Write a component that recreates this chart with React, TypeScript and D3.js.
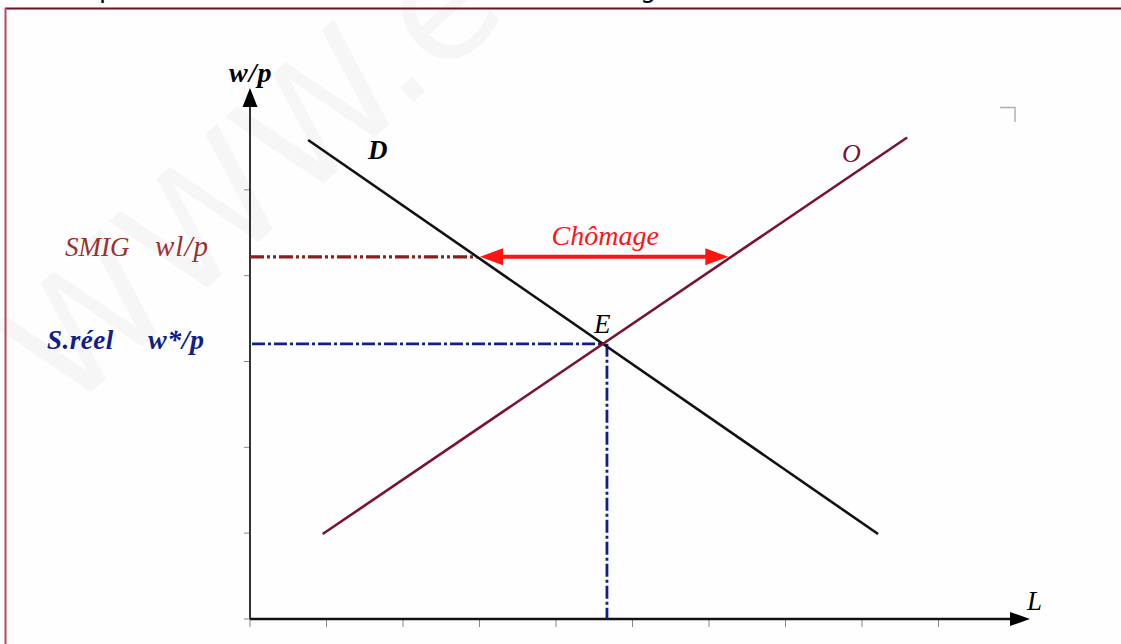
import React from 'react';
import * as d3 from 'd3';

// labour market diagram: demand D, supply O, minimum wage (SMIG) above equilibrium
const xTicks = [0, 1, 2, 3, 4, 5, 6, 7, 8, 9];
const yTicks = [0, 1, 2, 3, 4, 5];
const demandCurve = [
  { l: 0.76, w: 5.58 },
  { l: 8.21, w: 0.99 }
];
const supplyCurve = [
  { l: 0.95, w: 0.99 },
  { l: 8.59, w: 5.61 }
];
const smigLevel = 4.22;

const W = 1121;
const H = 644;
const serif = '"Liberation Serif", "DejaVu Serif", serif';

// l value of a two-point curve at wage w
function lAt(curve, w) {
  const [a, b] = curve;
  return a.l + ((w - a.w) * (b.l - a.l)) / (b.w - a.w);
}

function intersect(c1, c2) {
  const s1 = (c1[1].w - c1[0].w) / (c1[1].l - c1[0].l);
  const s2 = (c2[1].w - c2[0].w) / (c2[1].l - c2[0].l);
  const l = (c2[0].w - c1[0].w + s1 * c1[0].l - s2 * c2[0].l) / (s1 - s2);
  return { l, w: c1[0].w + s1 * (l - c1[0].l) };
}

const App = () => {
  const x = d3.scaleLinear().domain([0, 10]).range([250, 1015]);
  const y = d3.scaleLinear().domain([0, 6]).range([619, 104]);

  const line = d3
    .line()
    .x((d) => x(d.l))
    .y((d) => y(d.w));

  const eq = intersect(demandCurve, supplyCurve);
  const smigD = lAt(demandCurve, smigLevel);
  const smigO = lAt(supplyCurve, smigLevel);

  const x0 = x(0);
  const y0 = y(0);
  const yTip = y(6) - 16;
  const xTip = x(10) + 15;

  const ax1 = x(smigD) + 3;
  const ax2 = x(smigO) - 3;
  const ay = y(smigLevel);

  return (
    <svg
      width={W}
      height={H}
      style={{ position: 'absolute', left: 0, top: 0, background: '#fefefe' }}
    >
      {/* cut title above the frame */}
      <text x={99} y={-3} fontFamily="DejaVu Sans" fontSize={26} fill="#000">p</text>
      <text x={640} y={-3} fontFamily="DejaVu Sans" fontSize={26} fill="#000">g</text>

      {/* watermark */}
      <text
        transform="translate(66,415) rotate(-42)"
        fontFamily="DejaVu Sans"
        fontSize={158}
        fill="#f6f6f6"
      >
        WWW.e
      </text>

      {/* frame */}
      <line x1={5} x2={W} y1={8.5} y2={8.5} stroke="#70101f" strokeWidth={2} />
      <line x1={5.5} x2={5.5} y1={8} y2={H} stroke="#b04a5c" strokeWidth={2} />

      <path d="M1000,107.5H1015V122" fill="none" stroke="#b0b0b0" strokeWidth={1.5} />

      {/* ticks */}
      {yTicks.map((t) => (
        <line key={'y' + t} x1={x0 - 6} x2={x0} y1={y(t)} y2={y(t)} stroke="#888" strokeWidth={1} />
      ))}
      {xTicks.map((t) => (
        <line key={'x' + t} x1={x(t)} x2={x(t)} y1={y0} y2={y0 + 8} stroke="#888" strokeWidth={1} />
      ))}

      {/* axes */}
      <line x1={x0} x2={x0} y1={y0} y2={yTip + 10} stroke="#333" strokeWidth={2} />
      <path d={`M${x0},${yTip}L${x0 - 7.5},${yTip + 19}L${x0 + 7.5},${yTip + 19}Z`} fill="#000" />
      <line x1={x0} x2={xTip - 10} y1={y0} y2={y0} stroke="#111" strokeWidth={2.5} />
      <path d={`M${xTip},${y0}L${xTip - 20},${y0 - 7}L${xTip - 20},${y0 + 7}Z`} fill="#000" />

      {/* reference wage lines */}
      <line
        x1={x0}
        x2={x(smigD)}
        y1={ay}
        y2={ay}
        stroke="#8b1e1e"
        strokeWidth={3.2}
        strokeDasharray="14,3,3,3,3,3"
      />
      <line
        x1={x0 + 2}
        x2={x(eq.l)}
        y1={y(eq.w)}
        y2={y(eq.w)}
        stroke="#10208a"
        strokeWidth={2.8}
        strokeDasharray="13,3,3,3"
      />
      <line
        x1={x(eq.l) + 4}
        x2={x(eq.l) + 4}
        y1={y(eq.w)}
        y2={y0}
        stroke="#10208a"
        strokeWidth={2.8}
        strokeDasharray="13,3,3,3"
      />

      {/* curves */}
      <path d={line(demandCurve)} fill="none" stroke="#111" strokeWidth={2.6} />
      <path d={line(supplyCurve)} fill="none" stroke="#7b1230" strokeWidth={2.6} />

      {/* unemployment arrow */}
      <line x1={ax1 + 18} x2={ax2 - 18} y1={ay} y2={ay} stroke="#ff1414" strokeWidth={4} />
      <path d={`M${ax1},${ay}L${ax1 + 23},${ay - 8.5}L${ax1 + 23},${ay + 8.5}Z`} fill="#ff1414" />
      <path d={`M${ax2},${ay}L${ax2 - 23},${ay - 8.5}L${ax2 - 23},${ay + 8.5}Z`} fill="#ff1414" />
      <text
        x={(ax1 + ax2) / 2 + 1}
        y={ay - 12}
        textAnchor="middle"
        fontFamily={serif}
        fontStyle="italic"
        fontSize={28}
        fill="#ff1414"
      >
        Chômage
      </text>

      {/* labels */}
      <g fontFamily={serif} fontStyle="italic">
        <text x={229} y={82} fontSize={28} fontWeight="bold" fill="#000" letterSpacing={1}>
          w/p
        </text>
        <text x={65} y={256} fontSize={27} fill="#9b3030">SMIG</text>
        <text x={155} y={256} fontSize={29} fill="#9b3030" letterSpacing={1}>
          wl/p
        </text>
        <text x={47} y={349} fontSize={27} fontWeight="bold" fill="#10208a" letterSpacing={0.5}>
          S.réel
        </text>
        <text x={148} y={349} fontSize={28} fontWeight="bold" fill="#10208a" letterSpacing={0.5}>
          w*/p
        </text>
        <text x={368} y={159} fontSize={27} fontWeight="bold" fill="#000">D</text>
        <text x={842} y={162} fontSize={26} fill="#7b1230">O</text>
        <text x={594} y={333} fontSize={27} fill="#000">E</text>
        <text x={1027} y={610} fontSize={27} fill="#000">L</text>
      </g>
    </svg>
  );
};

export default App;
